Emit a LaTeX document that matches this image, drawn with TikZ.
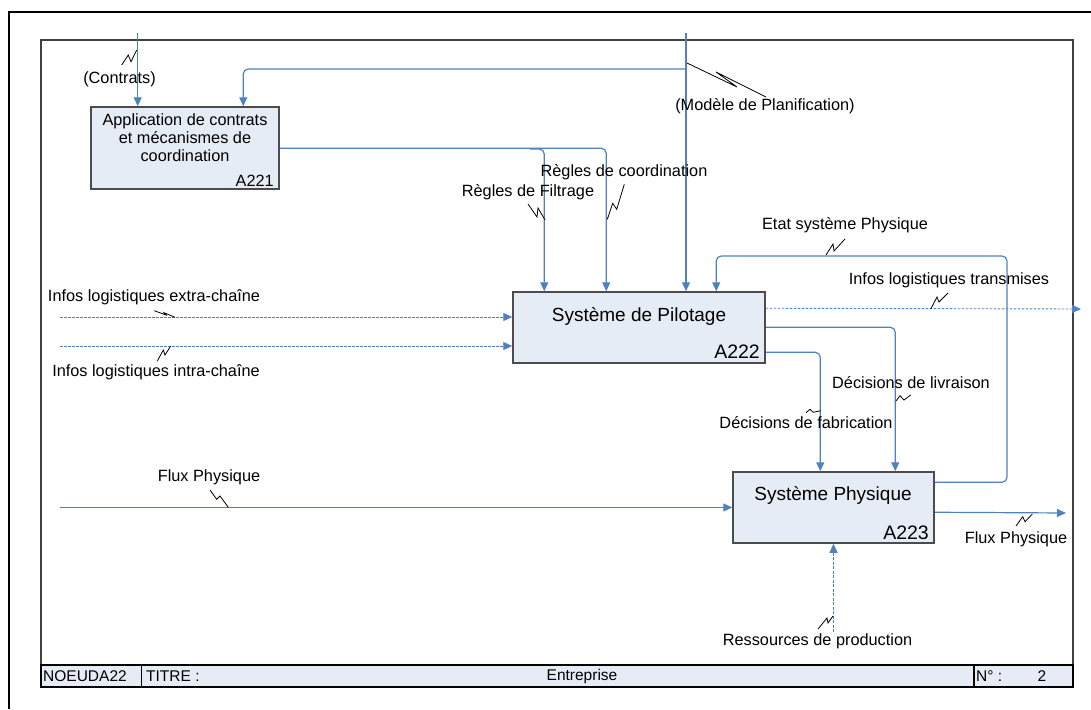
\documentclass[tikz,border=0pt]{standalone}
\usepackage{fontspec}
\setmainfont{Liberation Sans}
\usetikzlibrary{arrows.meta,calc}
\definecolor{flow}{RGB}{79,129,189}
\definecolor{boxfill}{RGB}{230,236,246}
\begin{document}
\begin{tikzpicture}[x=1pt,y=-1pt,
  flowline/.style={draw=flow,line width=1.2pt},
  arr/.style={flowline,-{Triangle[length=9pt,width=8pt]}},
  dotline/.style={arr,dash pattern=on 2.5pt off 1.5pt,line width=0.9pt},
  dashdotline/.style={arr,dash pattern=on 3pt off 1.5pt,line width=0.9pt},
  rnd/.style={rounded corners=5pt},
  actbox/.style={draw=black!70,line width=1.5pt,fill=boxfill,inner sep=0pt},
  lbl/.style={font=\fontsize{16.3}{18}\selectfont,inner sep=0pt,text=black},
  ttl/.style={font=\fontsize{19}{22}\selectfont,inner sep=0pt},
  idlbl/.style={font=\fontsize{19.5}{22}\selectfont,inner sep=0pt,anchor=east},
  strip/.style={font=\fontsize{15.5}{18}\selectfont,inner sep=0pt},
  bolt/.style={draw=black,line width=0.8pt},
]
\useasboundingbox (0,0) rectangle (1091,709);
% frames
\draw[line width=2.5pt] (1091,12) -- (9,12) -- (9,709);
\draw[black!75,line width=1.5pt] (41,665) -- (41,40) -- (1073,40) -- (1073,665);
\draw[fill=boxfill,line width=1.2pt] (41,665) rectangle (1073,687);
\draw[line width=1.2pt] (141.7,665) -- (141.7,687) (974,665) -- (974,687);
\node[strip,anchor=west] (noeud) at (43,676) {NOEUDA22};
\node[strip,anchor=west] (titre) at (146,676) {TITRE :};
\node[strip] (entr) at (582,676) {Entreprise};
\node[strip,anchor=west] (num) at (976,676) {N° :};
\node[strip] (numv) at (1042,676) {2};

% boxes
\node[actbox,minimum width=188pt,minimum height=82pt] (a221) at (185,148) {};
\node[actbox,minimum width=252pt,minimum height=71pt] (a222) at (639,327.5) {};
\node[actbox,minimum width=201pt,minimum height=71pt] (a223) at (833.5,507.5) {};
\node[lbl,align=center] (t221) at (185,138) {Application de contrats\\et mécanismes de\\coordination};
\node[lbl,anchor=east] (i221) at (274,181) {A221};
\node[ttl] (t222) at (639,316) {Système de Pilotage};
\node[idlbl] (i222) at (760,352) {A222};
\node[ttl] (t223) at (833,495) {Système Physique};
\node[idlbl] (i223) at (929,533) {A223};

% ports
\coordinate (contratsTop) at (137.7,33);
\coordinate (modTop) at (686,33);
\coordinate (modBr) at (686,69);
\coordinate (a221in2) at ($(a221.north west)+(153,0)$);
\coordinate (a221out) at ($(a221.north east)+(0,42)$);
\coordinate (filtBr) at (530,149);
\coordinate (a222in1) at ($(a222.north west)+(32,0)$);
\coordinate (a222in2) at ($(a222.north west)+(94,0)$);
\coordinate (a222in4) at ($(a222.north west)+(204,0)$);
\coordinate (a222out1) at ($(a222.north east)+(0,17)$);
\coordinate (a222out2) at ($(a222.north east)+(0,36)$);
\coordinate (a222out3) at ($(a222.north east)+(0,61)$);
\coordinate (a223in1) at ($(a223.north west)+(88,0)$);
\coordinate (a223in2) at ($(a223.north west)+(163,0)$);
\coordinate (a223out1) at ($(a223.north east)+(0,11)$);
\coordinate (a223out2) at ($(a223.north east)+(0,41)$);
\coordinate (etatCorner) at (1007,256);
\coordinate (transEnd) at (1081,309);
\coordinate (fluxEnd) at (1066,513);
\coordinate (fluxIn) at (60,507.5);
\coordinate (extraIn) at (60,317);
\coordinate (intraIn) at (60,346);
\coordinate (ressIn) at (833.5,632);

% connectors
\draw[arr] (contratsTop) -- (contratsTop |- a221.north);
\draw[arr] (modTop) -- (modTop |- a222.north);
\draw[arr,rnd] (modBr) -| (a221in2);
\draw[arr,rnd] (a221out) -| (a222in2);
\draw[arr,rnd] (filtBr) -| (a222in1);
\draw[arr,rnd] (a223out1) -| (etatCorner) -| (a222in4);
\draw[dotline] (a222out1) -- (transEnd);
\draw[arr,rnd] (a222out2) -| (a223in2);
\draw[arr,rnd] (a222out3) -| (a223in1);
\draw[arr] (a223out2) -- (fluxEnd);
\draw[arr] (fluxIn) -- (fluxIn -| a223.west);
\draw[dotline] (extraIn) -- (extraIn -| a222.west);
\draw[dotline] (intraIn) -- (intraIn -| a222.west);
\draw[dashdotline] (ressIn) -- (ressIn |- a223.south);

% labels
\node[lbl] (lContrats) at (119.5,79) {(Contrats)};
\node[lbl] (lModele) at (765,106) {(Modèle de Planification)};
\node[lbl] (lCoord) at (624,172) {Règles de coordination};
\node[lbl] (lFiltr) at (528,192) {Règles de Filtrage};
\node[lbl] (lEtat) at (845,225) {Etat système Physique};
\node[lbl] (lTrans) at (949,280) {Infos logistiques transmises};
\node[lbl] (lLivr) at (911,383) {Décisions de livraison};
\node[lbl] (lFabr) at (806,423) {Décisions de fabrication};
\node[lbl] (lFluxOut) at (1016,539) {Flux Physique};
\node[lbl] (lFluxIn) at (209,477) {Flux Physique};
\node[lbl] (lExtra) at (154,297) {Infos logistiques extra-chaîne};
\node[lbl] (lIntra) at (156,372) {Infos logistiques intra-chaîne};
\node[lbl] (lRess) at (817.5,641) {Ressources de production};

% squiggles
\draw[bolt] (121.7,65) -- (128.3,55) -- (131,61.7) -- (136.7,50);
\draw[bolt] (687,63) -- (737,87) -- (716,72) -- (766,97);
\draw[bolt] (528,204) -- (537,217) -- (538,208) -- (545,220);
\draw[bolt] (607.3,219.3) -- (612.7,203.3) -- (616.7,209.3) -- (624.3,184.3);
\draw[bolt] (826,255) -- (833,244) -- (834,251) -- (845,239);
\draw[bolt] (930.7,309) -- (937,297) -- (939,302) -- (948,293);
\draw[bolt] (896,401) -- (900,395.7) -- (904,400) -- (910.7,395);
\draw[bolt] (806,412.7) -- (810,409.3) -- (813.3,412.3) -- (820.7,410.7);
\draw[bolt] (1016,526) -- (1022.7,516.7) -- (1025,521.7) -- (1032.3,514);
\draw[bolt] (210,490) -- (216.7,499.3) -- (220,496) -- (228.3,507.3);
\draw[bolt] (154.3,310.7) -- (166,315) -- (164,312.7) -- (175,317.3);
\draw[bolt] (157.3,361) -- (163.3,350) -- (165,355) -- (170.7,346);
\draw[bolt] (818,629) -- (827,618) -- (828,623) -- (833,616);
\end{tikzpicture}
\end{document}
